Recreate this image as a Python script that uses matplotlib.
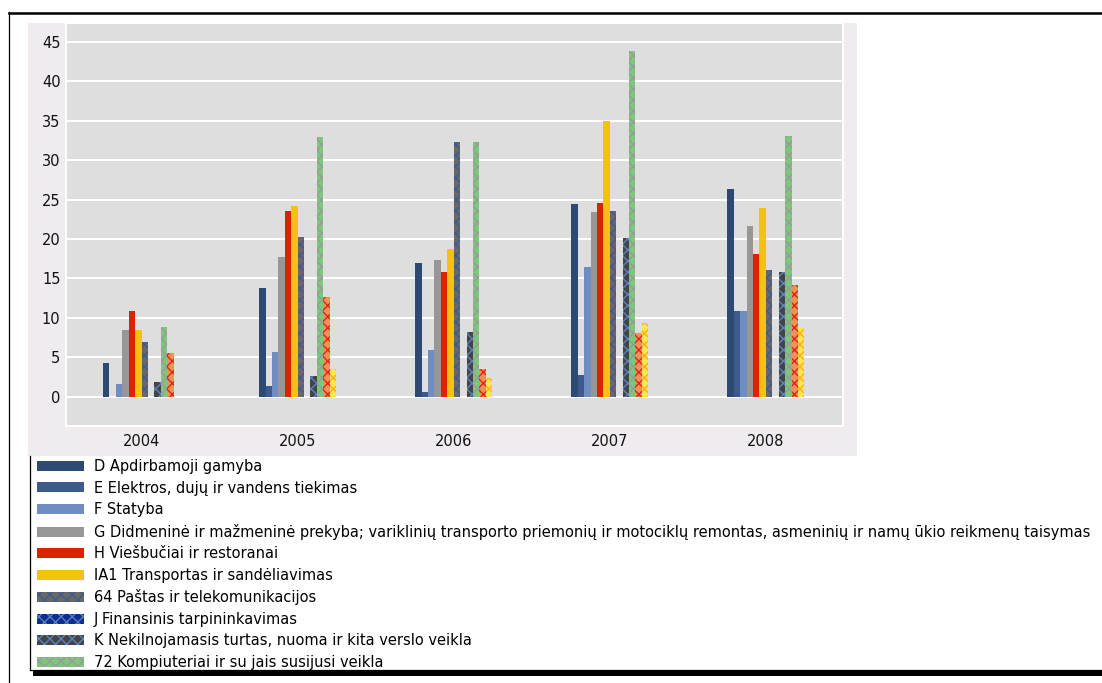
import matplotlib
matplotlib.use("Agg")
import matplotlib.pyplot as plt
from matplotlib.patches import Rectangle
from matplotlib.lines import Line2D
import numpy as np

plt.rcParams['font.family'] = ['DejaVu Sans']
plt.rcParams['hatch.linewidth'] = 1.0

years = ["2004", "2005", "2006", "2007", "2008"]

series_labels = [
    "D Apdirbamoji gamyba",
    "E Elektros, dujų ir vandens tiekimas",
    "F Statyba",
    "G Didmeninė ir mažmeninė prekyba; variklinių transporto priemonių ir motociklų remontas, asmeninių ir namų ūkio reikmenų taisymas",
    "H Viešbučiai ir restoranai",
    "IA1 Transportas ir sandėliavimas",
    "64 Paštas ir telekomunikacijos",
    "J Finansinis tarpininkavimas",
    "K Nekilnojamasis turtas, nuoma ir kita verslo veikla",
    "72 Kompiuteriai ir su jais susijusi veikla",
]

D_values = [4.3, 13.8, 16.9, 24.4, 26.4]
E_values = [0.0, 1.4, 0.55, 2.8, 10.9]
F_values = [1.6, 5.7, 5.9, 16.5, 10.9]
G_values = [8.4, 17.7, 17.3, 23.4, 21.7]
H_values = [10.9, 23.6, 15.8, 24.6, 18.1]
IA1_values = [8.4, 24.2, 18.7, 35.0, 24.0]
P64_values = [7.0, 20.2, 32.3, 23.6, 16.05]
J_values = [0.0, 0.0, 0.0, 0.0, 0.0]
K_values = [1.9, 2.6, 8.2, 20.1, 15.8]
C72_values = [8.85, 33.0, 32.3, 43.9, 33.1]
L_values = [5.6, 12.6, 3.5, 8.1, 14.2]
M_values = [0.0, 3.5, 2.4, 9.3, 8.75]

all_values = [D_values, E_values, F_values, G_values, H_values, IA1_values,
              P64_values, J_values, K_values, C72_values, L_values, M_values]

face_colors = ["#2E4A72", "#3D5A8C", "#6F8DC0", "#979797", "#DC2200", "#F2C40C",
               "#686868", "#0C2E8E", "#444444", "#7DC77D", "#F09158", "#FFE54E"]
hatch_colors = [None, None, None, None, None, None,
                "#3C5C8E", "#5A7CC4", "#5A82C4", "#9A9A9A", "#E02418", "#F2B418"]

W, H = 1102, 683
fig = plt.figure(figsize=(W / 100, H / 100), dpi=100)
fig.patch.set_facecolor("white")

def px_rect(x0, y0, x1, y1, **kw):
    # rectangle in pixel coordinates (origin top-left)
    r = Rectangle((x0 / W, 1 - y1 / H), (x1 - x0) / W, (y1 - y0) / H,
                  transform=fig.transFigure, **kw)
    fig.patches.append(r)
    return r

def px_line(xs, ys, **kw):
    l = Line2D([x / W for x in xs], [1 - y / H for y in ys],
               transform=fig.transFigure, **kw)
    fig.lines.append(l)

# outer frame
px_line([8.5, 8.5], [12, 683], color="black", lw=0.9, zorder=0)
px_line([8.5, 1102], [12.5, 12.5], color="black", lw=1.8, zorder=0)

# chart background panel
px_rect(28, 23, 857, 456, facecolor="#EFEBEE", edgecolor="none", zorder=-1)

# legend box with shadow
px_rect(29, 456, 1110, 670, facecolor="white", edgecolor="none", zorder=-1)
px_line([29.5, 29.5], [456, 670], color="black", lw=0.9, zorder=0)
px_line([29.5, 1102], [669.8, 669.8], color="black", lw=0.9, zorder=0)
px_rect(33, 670, 1102, 676, facecolor="black", edgecolor="none", zorder=0)

# plot area
ax_left, ax_right, ax_top, ax_bottom = 66, 843, 23, 426
ax = fig.add_axes([ax_left / W, 1 - ax_bottom / H,
                   (ax_right - ax_left) / W, (ax_bottom - ax_top) / H])
ax.set_zorder(2)
ax.set_facecolor("#DEDEDE")
for s in ax.spines.values():
    s.set_color("white")
    s.set_linewidth(1.5)

n = len(all_values)
bar_w = 0.0411
x = np.arange(len(years))
handles = []
for i, vals in enumerate(all_values):
    offs = (i - (n - 1) / 2) * bar_w
    if hatch_colors[i] is None:
        b = ax.bar(x + offs, vals, bar_w, color=face_colors[i], linewidth=0, zorder=3)
    else:
        b = ax.bar(x + offs, vals, bar_w, facecolor=face_colors[i],
                   edgecolor=hatch_colors[i], hatch="xxx", linewidth=0, zorder=3)
    handles.append(b)

ax.set_ylim(-3.72, 47.41)
ax.set_xlim(-0.484, 4.494)
ax.set_yticks(np.arange(0, 50, 5))
ax.set_xticks(x)
ax.set_xticklabels(years)
ax.yaxis.grid(True, color="white", linewidth=1.4, zorder=1)
ax.set_axisbelow(True)
ax.tick_params(axis="both", length=0, labelsize=10.5, colors="#111111")
ax.tick_params(axis="y", pad=4)
ax.tick_params(axis="x", pad=6)

leg = fig.legend(handles[:10], series_labels, loc="upper left",
                 bbox_to_anchor=(37 / W, 1 - 459 / H), frameon=False,
                 fontsize=10.5, handlelength=3.2, handleheight=0.68,
                 handletextpad=0.7, labelspacing=0.45, borderpad=0,
                 borderaxespad=0)
leg.set_zorder(3)

fig.savefig("out.png", dpi=100)
